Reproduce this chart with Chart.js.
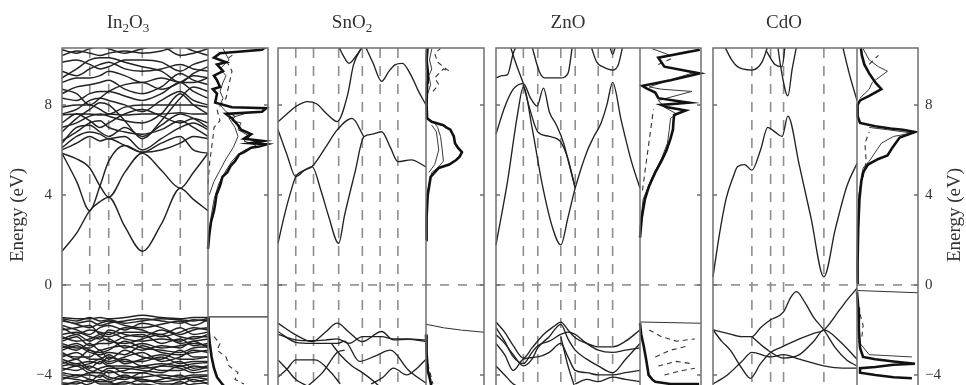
<!DOCTYPE html>
<html><head><meta charset="utf-8">
<script src="https://cdn.jsdelivr.net/npm/chart.js@4/dist/chart.umd.min.js"></script>
<style>
html,body{margin:0;padding:0;background:#fff;overflow:hidden;width:966px;height:385px;}
#wrap{position:relative;width:966px;height:385px;overflow:hidden;}
canvas{position:absolute;left:0;top:0;}
.ttl{position:absolute;top:12px;font-family:'Liberation Serif',serif;font-size:19px;line-height:20px;color:#333;transform:translateX(-50%);white-space:nowrap;}
.ttl sub{font-size:13px;vertical-align:-4px;line-height:0;}
</style></head><body>
<div id="wrap"><canvas id="c" width="966" height="390"></canvas></div>
<script>
// ---------- data ----------
const yRange = [-4.55, 10.53];
const yTicks = [-4, 0, 4, 8];
const panelNames = ['In2O3', 'SnO2', 'ZnO', 'CdO'];
const axisTitle = 'Energy (eV)';

// high-symmetry k-point positions (fraction of band-structure panel width)
const in2o3Kpts = [0.19, 0.32, 0.55, 0.81];
const sno2Kpts = [0.12, 0.24, 0.41, 0.57, 0.69, 0.81];
const znoKpts = [0.19, 0.29, 0.45, 0.55, 0.71, 0.81];
const cdoKpts = [0.27, 0.40, 0.49, 0.77];

// In2O3 bands on a common k grid
const in2o3K = [0, 0.1, 0.19, 0.26, 0.32, 0.43, 0.55, 0.68, 0.81, 0.9, 1];
const in2o3Conduction = [
  [1.5, 2.3, 3.3, 3.7, 3.9, 2.6, 1.5, 2.7, 4.3, 3.8, 3.3],
  [5.85, 5.6, 5.2, 4.4, 3.9, 5.0, 5.85, 5.1, 4.3, 5.0, 5.85],
  [5.85, 4.6, 3.3, 4.4, 5.5, 6.2, 5.9, 6.3, 6.6, 6.0, 5.85],
  [6.0, 6.3, 6.6, 6.4, 6.5, 6.2, 5.9, 6.0, 6.3, 6.6, 6.5],
  [6.1, 6.6, 6.8, 6.7, 6.5, 6.6, 6.0, 6.5, 7.0, 7.2, 6.9],
  [6.3, 7.0, 7.1, 6.8, 6.6, 7.0, 6.6, 7.1, 7.6, 7.4, 7.0],
  [6.4, 6.8, 7.2, 7.3, 7.0, 6.8, 6.7, 6.9, 7.3, 7.0, 6.6],
  [6.8, 7.4, 7.8, 8.1, 8.0, 7.3, 6.5, 7.3, 8.3, 8.8, 8.6],
  [7.0, 7.2, 7.5, 7.6, 7.5, 7.3, 7.2, 7.6, 8.5, 8.0, 7.6],
  [7.2, 7.6, 7.3, 7.0, 7.2, 7.6, 7.8, 7.5, 7.2, 7.4, 7.2],
  [7.55, 7.6, 7.6, 7.55, 7.6, 7.55, 7.6, 7.6, 7.65, 7.6, 7.6],
  [7.6, 7.8, 8.2, 8.3, 8.2, 8.0, 7.7, 8.2, 8.6, 8.2, 8.0],
  [7.9, 8.0, 8.0, 7.8, 7.6, 7.9, 8.0, 8.0, 8.0, 8.0, 7.9],
  [8.3, 8.2, 8.5, 8.6, 8.6, 8.4, 8.2, 8.5, 9.0, 8.6, 8.3],
  [8.5, 8.8, 8.9, 9.0, 9.1, 8.7, 8.5, 8.8, 9.4, 9.1, 8.9],
  [8.7, 8.5, 8.0, 8.3, 8.6, 8.9, 9.0, 8.7, 9.0, 9.3, 9.2],
  [9.0, 9.2, 9.2, 9.3, 9.5, 9.3, 9.0, 9.2, 9.0, 9.0, 9.2],
  [9.2, 9.6, 10.0, 10.1, 10.1, 9.9, 9.7, 9.5, 9.0, 9.4, 9.7],
  [9.5, 9.3, 9.6, 9.8, 9.9, 9.6, 9.5, 9.6, 9.8, 9.6, 9.5],
  [9.9, 10.0, 9.8, 9.6, 9.7, 10.0, 10.0, 9.9, 9.5, 9.8, 10.0],
  [10.2, 10.4, 10.3, 10.2, 10.3, 10.4, 10.3, 10.4, 10.6, 10.4, 10.2],
  [10.45, 10.3, 10.5, 10.6, 10.5, 10.3, 10.5, 10.6, 10.2, 10.3, 10.5]
];
const in2o3Valence = [
  [-1.45, -1.5, -1.5, -1.45, -1.5, -1.45, -1.35, -1.45, -1.5, -1.45, -1.45],
  [-1.5, -1.6, -1.45, -1.6, -1.55, -1.7, -1.6, -1.5, -1.55, -1.6, -1.5],
  [-1.55, -1.75, -1.9, -1.7, -1.6, -1.8, -1.9, -1.75, -1.6, -1.8, -1.55],
  [-1.6, -1.7, -1.6, -1.8, -1.7, -1.6, -1.5, -1.6, -1.7, -1.55, -1.6],
  [-1.8, -2.0, -2.2, -1.9, -1.8, -2.0, -1.7, -1.9, -2.2, -2.0, -1.9],
  [-1.9, -2.2, -2.0, -2.1, -2.2, -1.9, -2.0, -2.3, -2.1, -1.9, -2.0],
  [-2.0, -1.9, -1.8, -2.2, -2.3, -2.1, -2.1, -2.2, -1.9, -2.2, -2.1],
  [-2.2, -2.1, -2.3, -2.4, -2.0, -2.2, -2.3, -2.0, -2.3, -2.4, -2.2],
  [-2.3, -2.5, -2.4, -2.2, -2.1, -2.4, -2.5, -2.4, -2.5, -2.3, -2.3],
  [-2.4, -2.2, -2.5, -2.3, -2.5, -2.6, -2.4, -2.2, -2.6, -2.5, -2.4],
  [-2.5, -2.3, -2.7, -2.6, -2.6, -2.3, -2.2, -2.6, -2.4, -2.7, -2.6],
  [-2.6, -2.8, -2.8, -2.5, -2.4, -2.8, -2.6, -2.8, -2.7, -2.6, -2.7],
  [-2.7, -2.9, -2.6, -2.9, -2.8, -2.7, -2.9, -2.7, -2.8, -2.5, -2.8],
  [-2.8, -2.6, -2.9, -3.0, -2.9, -2.5, -2.8, -2.9, -3.0, -2.8, -2.75],
  [-2.9, -2.7, -3.0, -3.1, -3.0, -3.1, -2.7, -3.0, -3.1, -3.0, -2.9],
  [-3.0, -3.3, -2.9, -3.2, -3.4, -3.2, -3.0, -3.4, -3.2, -2.9, -3.0],
  [-3.1, -3.2, -3.2, -2.9, -3.3, -2.9, -3.2, -3.3, -2.9, -3.2, -3.2],
  [-3.2, -3.0, -3.3, -3.3, -3.1, -3.5, -3.3, -3.1, -3.3, -3.3, -3.2],
  [-3.3, -3.5, -3.4, -3.5, -3.2, -3.4, -3.4, -3.2, -3.5, -3.4, -3.4],
  [-3.4, -3.6, -3.5, -3.3, -3.5, -3.3, -3.6, -3.5, -3.6, -3.5, -3.45],
  [-3.5, -3.3, -3.7, -3.4, -3.6, -3.6, -3.7, -3.6, -3.4, -3.7, -3.6],
  [-3.6, -3.5, -3.8, -3.9, -3.7, -3.7, -3.8, -3.9, -3.6, -3.8, -3.65],
  [-3.7, -3.8, -3.6, -3.8, -3.9, -3.8, -3.6, -3.8, -3.8, -3.6, -3.7],
  [-3.8, -3.6, -3.9, -3.7, -3.6, -3.9, -3.9, -3.6, -3.7, -3.9, -3.8],
  [-3.9, -4.0, -4.0, -4.1, -3.8, -4.1, -4.1, -4.0, -4.1, -4.0, -4.0],
  [-4.0, -4.1, -3.9, -3.9, -4.1, -4.2, -3.9, -4.1, -4.2, -4.1, -4.05],
  [-4.1, -4.2, -4.3, -4.0, -4.2, -4.0, -4.3, -4.2, -4.0, -4.3, -4.2],
  [-4.2, -4.0, -4.2, -4.3, -4.3, -4.1, -4.2, -4.3, -4.2, -4.1, -4.2],
  [-4.35, -4.4, -4.2, -4.4, -4.4, -4.4, -4.2, -4.4, -4.4, -4.2, -4.4],
  [-4.4, -4.5, -4.4, -4.2, -4.3, -4.5, -4.4, -4.5, -4.5, -4.4, -4.35],
  [-4.5, -4.3, -4.5, -4.6, -4.5, -4.3, -4.5, -4.6, -4.3, -4.5, -4.5]
];

// SnO2 bands: [k, E] pairs
const sno2Bands = [
  [[0,1.85],[0.04,3.0],[0.08,4.0],[0.12,4.81],[0.18,5.1],[0.23,5.26],[0.29,4.2],[0.34,3.1],[0.41,1.85],[0.45,3.1],[0.52,5.0],[0.58,6.59],[0.64,6.7],[0.7,6.81],[0.76,6.1],[0.81,5.48],[0.9,5.56],[1,5.25]],
  [[0,6.9],[0.06,5.8],[0.12,4.81],[0.18,5.1],[0.23,5.26],[0.32,6.1],[0.4,6.89],[0.5,7.4],[0.58,6.59]],
  [[0,7.25],[0.06,7.6],[0.12,7.93],[0.2,8.15],[0.26,8.05],[0.33,7.6],[0.4,7.26],[0.47,8.44],[0.51,9.78],[0.57,10.6]],
  [[0.41,10.6],[0.44,10.2],[0.48,9.85],[0.53,10.2],[0.57,10.6]],
  [[0.59,10.6],[0.64,9.9],[0.7,9.05],[0.75,9.5],[0.79,9.78],[0.84,9.85],[0.9,9.3],[0.95,8.6],[1,8.0]],
  [[0,-1.7],[0.12,-2.22],[0.23,-2.52],[0.32,-2.1],[0.4,-1.7],[0.48,-2.1],[0.57,-2.52],[0.7,-2.07],[0.78,-2.44],[0.88,-2.42],[1,-2.52]],
  [[0,-2.2],[0.12,-2.44],[0.23,-2.48],[0.32,-2.45],[0.4,-2.4],[0.48,-2.6],[0.57,-2.3],[0.7,-2.3],[0.78,-2.4],[0.88,-2.4],[1,-2.45]],
  [[0,-2.07],[0.12,-2.55],[0.23,-2.6],[0.4,-2.6],[0.45,-2.5],[0.55,-3.4],[0.66,-3.15],[0.76,-2.9],[0.88,-3.78],[1,-4.37]],
  [[0,-4.1],[0.06,-3.75],[0.12,-3.33],[0.25,-3.33],[0.36,-3.9],[0.42,-4.4]],
  [[0,-3.33],[0.06,-3.75],[0.12,-4.2],[0.2,-4.5]],
  [[0.36,-2.6],[0.42,-3.1],[0.5,-3.6],[0.57,-3.9],[0.65,-4.3],[0.7,-4.6]],
  [[0.63,-4.4],[0.71,-4.1],[0.78,-3.7],[0.87,-4.0],[0.94,-3.7],[1,-3.3]],
  [[0.2,-4.5],[0.3,-3.9],[0.4,-3.0],[0.45,-2.9]]
];

// ZnO bands
const znoBands = [
  [[0,1.78],[0.08,4.6],[0.15,7.6],[0.19,8.8],[0.25,7.0],[0.32,4.5],[0.39,2.6],[0.45,1.78],[0.5,3.0],[0.55,4.3],[0.63,5.9],[0.68,6.6],[0.73,7.2],[0.77,8.0],[0.81,9.0],[0.87,7.3],[0.94,5.5],[1,4.3]],
  [[0,6.7],[0.06,7.9],[0.12,8.7],[0.19,8.95],[0.24,8.3],[0.285,7.95],[0.33,8.75],[0.37,7.7],[0.42,7.1],[0.47,6.3],[0.51,5.3],[0.55,4.3]],
  [[0.19,8.9],[0.24,7.7],[0.29,6.8],[0.37,6.6],[0.45,6.35],[0.5,5.6],[0.55,4.3]],
  [[0,9.2],[0.04,9.3],[0.08,9.35],[0.12,10.3],[0.14,10.6]],
  [[0.1,10.6],[0.13,10.0],[0.19,8.95]],
  [[0.25,10.6],[0.3,9.5],[0.34,9.2],[0.45,9.2],[0.5,9.4],[0.53,10.6]],
  [[0.66,10.6],[0.7,9.9],[0.74,9.7],[0.81,9.55],[0.85,9.8],[0.88,10.6]],
  [[0.79,10.6],[0.81,10.25],[0.83,10.6]],
  [[0,-1.65],[0.06,-2.1],[0.12,-2.7],[0.19,-3.25],[0.25,-2.8],[0.33,-2.2],[0.4,-1.85],[0.45,-1.65],[0.5,-2.0],[0.55,-2.35],[0.63,-2.6],[0.71,-2.75],[0.81,-2.75],[0.9,-2.5],[1,-2.0]],
  [[0,-2.2],[0.06,-2.6],[0.12,-3.1],[0.19,-3.6],[0.25,-3.3],[0.29,-2.8],[0.37,-2.3],[0.45,-1.75],[0.5,-2.4],[0.55,-2.9],[0.63,-3.3],[0.71,-3.6],[0.81,-3.9],[0.9,-3.3],[1,-2.6]],
  [[0,-1.9],[0.06,-2.5],[0.12,-3.2],[0.19,-3.5],[0.25,-3.0],[0.29,-2.7],[0.37,-2.5],[0.45,-2.2],[0.5,-2.1],[0.55,-2.2],[0.63,-2.6],[0.71,-2.9],[0.81,-3.0],[0.9,-2.9],[1,-2.8]],
  [[0,-2.6],[0.06,-3.1],[0.12,-3.8],[0.19,-3.3],[0.29,-3.2],[0.37,-3.0],[0.45,-2.6],[0.5,-3.2],[0.55,-3.8],[0.63,-3.9],[0.71,-4.0],[0.81,-4.0],[0.9,-3.9],[1,-3.8]],
  [[0,-3.6],[0.06,-4.0],[0.12,-4.4],[0.19,-4.6]],
  [[0.45,-2.3],[0.5,-3.6],[0.55,-4.6]],
  [[0.55,-4.4],[0.63,-4.2],[0.71,-4.3],[0.81,-4.1],[0.9,-4.2],[1,-4.3]]
];

// CdO bands
const cdoBands = [
  [[0,0.36],[0.046,2.3],[0.09,3.8],[0.14,4.8],[0.17,5.25],[0.22,5.35],[0.27,5.1],[0.33,6.0],[0.38,7.0],[0.43,6.8],[0.48,6.6],[0.52,7.5],[0.6,5.3],[0.68,3.0],[0.77,0.36],[0.85,2.5],[0.93,4.4],[1,5.4]],
  [[0.08,10.6],[0.13,10.0],[0.17,9.7],[0.27,9.55],[0.34,9.9],[0.38,10.6]],
  [[0.45,10.6],[0.47,9.7],[0.52,8.4],[0.55,9.6],[0.58,10.6]],
  [[0.37,10.4],[0.43,9.8],[0.48,9.7],[0.5,10.6]],
  [[0.9,10.6],[0.95,9.3],[1,8.2]],
  [[0,-2.0],[0.1,-2.15],[0.2,-2.3],[0.27,-2.3],[0.33,-1.9],[0.4,-1.55],[0.49,-1.2],[0.54,-0.55],[0.58,-0.3],[0.64,-0.8],[0.7,-1.45],[0.77,-2.0],[0.85,-2.8],[0.93,-3.35],[1,-3.6]],
  [[0,-2.0],[0.06,-2.5],[0.12,-2.9],[0.2,-3.7],[0.26,-4.15],[0.33,-3.5],[0.4,-3.0],[0.48,-2.75],[0.6,-2.4],[0.7,-2.15],[0.77,-2.0],[0.88,-1.1],[0.94,-0.6],[1,-0.15]],
  [[0.27,-2.3],[0.36,-2.8],[0.49,-3.25],[0.6,-3.1],[0.7,-2.5],[0.77,-2.0],[0.88,-2.5],[1,-3.3]],
  [[0,-4.4],[0.1,-4.0],[0.2,-3.4],[0.27,-3.0],[0.4,-3.2],[0.49,-3.1],[0.6,-3.3],[0.77,-3.6],[0.9,-3.7],[1,-3.7]]
];

// Density of states: [dos (fraction of DOS panel width), E] pairs
const in2o3DosTotal = [
  [[0,1.6],[0.02,2.2],[0.05,2.8],[0.1,3.3],[0.12,3.6],[0.14,4.0],[0.2,4.4],[0.24,4.8],[0.32,5.0],[0.38,5.3],[0.45,5.5],[0.52,5.8],[0.6,5.9],[0.72,6.1],[0.85,6.15],[0.98,6.25],[0.7,6.3],[0.92,6.4],[0.6,6.5],[0.72,6.7],[0.55,6.9],[0.5,7.1],[0.4,7.4],[0.3,7.6],[0.9,7.7],[0.97,7.85],[0.4,7.9],[0.12,8.1],[0.15,8.5],[0.08,8.7],[0.2,8.8],[0.15,9.1],[0.1,9.3],[0.25,9.5],[0.15,9.8],[0.3,9.9],[0.1,10.1],[0.2,10.3],[0.9,10.45],[0.97,10.6]],
  [[0,-1.45],[0.01,-2.0],[0.03,-2.6],[0.06,-3.2],[0.1,-3.7],[0.15,-4.1],[0.22,-4.35],[0.3,-4.6]]
];
const in2o3DosPartial = [
  [[0,1.7],[0.05,3.0],[0.1,3.8],[0.18,4.5],[0.28,5.0],[0.4,5.5],[0.5,5.8],[0.62,6.0],[0.8,6.2],[0.6,6.4],[0.7,6.6],[0.5,6.9],[0.55,7.2],[0.4,7.3],[0.45,7.5],[0.3,7.7],[0.2,8.0],[0.25,8.3],[0.2,8.6],[0.25,9.0],[0.3,9.3],[0.2,9.6],[0.35,10.0],[0.25,10.5]],
  [[0.02,4.0],[0.1,4.6],[0.2,5.1],[0.3,5.6],[0.42,6.1],[0.5,6.6],[0.45,7.0],[0.35,7.4],[0.6,7.6]]
];
const in2o3DosDashed = [
  [[0,4.5],[0.03,5.5],[0.08,6.5],[0.1,7.0],[0.2,7.3],[0.15,7.8],[0.3,8.3],[0.35,8.9],[0.4,9.5],[0.3,10.0],[0.45,10.3]],
  [[0.1,-2.3],[0.2,-2.6],[0.15,-2.9],[0.3,-3.2],[0.35,-3.6],[0.5,-3.9],[0.45,-4.2],[0.6,-4.4]]
];
const in2o3DosEdge = [[[0,-1.42],[1,-1.42]]];

const sno2DosTotal = [
  [[0,2.0],[0.01,3.0],[0.03,4.0],[0.08,4.8],[0.22,5.2],[0.4,5.35],[0.52,5.55],[0.58,5.7],[0.62,5.9],[0.55,6.1],[0.5,6.3],[0.48,6.6],[0.42,6.9],[0.35,7.0],[0.3,7.1],[0.1,7.25],[0.02,7.4],[0.01,8.0],[0.02,9.0],[0.03,9.5],[0.01,10.0],[0.03,10.6]],
  [[0,-2.2],[0.01,-3.0],[0.03,-3.8],[0.07,-4.2],[0.1,-4.6]]
];
const sno2DosPartial = [
  [[0,2.5],[0.03,4.2],[0.1,5.0],[0.2,5.2],[0.3,5.5],[0.28,6.0],[0.25,6.6],[0.2,7.0],[0.15,7.2],[0.05,7.35]],
  [[0.05,5.0],[0.15,5.35],[0.22,6.0],[0.18,6.8],[0.1,7.1]],
  [[0.03,8.5],[0.08,8.9],[0.05,9.3],[0.1,9.6],[0.06,10.0],[0.1,10.5]]
];
const sno2DosDashed = [
  [[0.12,8.6],[0.22,8.9],[0.15,9.2],[0.3,9.6],[0.4,9.5],[0.2,9.9],[0.15,10.3],[0.25,10.5]],
  [[0.03,-3.5],[0.08,-4.0],[0.12,-4.4]]
];
const sno2DosEdge = [[[0,-1.75],[0.3,-1.9],[0.6,-2.0],[1,-2.1]]];

const znoDosTotal = [
  [[0,2.1],[0.03,3.0],[0.08,3.8],[0.15,4.4],[0.25,5.0],[0.35,5.5],[0.43,5.95],[0.5,6.5],[0.54,6.9],[0.55,7.3],[0.56,7.55],[0.75,7.75],[0.45,7.9],[0.35,8.0],[0.8,8.1],[0.3,8.3],[0.25,8.55],[0.1,8.75],[0.04,8.85],[0.5,9.1],[0.98,9.4],[0.4,9.7],[0.3,10.1],[0.98,10.45]],
  [[0,-1.7],[0.02,-2.2],[0.06,-2.7],[0.1,-3.3],[0.13,-3.8],[0.14,-4.0],[0.2,-4.2],[0.25,-4.3],[0.5,-4.4],[0.97,-4.4]]
];
const znoDosPartial = [
  [[0,2.5],[0.05,3.8],[0.2,4.8],[0.35,5.6],[0.45,6.3],[0.48,6.9],[0.5,7.4],[0.6,7.6],[0.4,7.9],[0.3,8.2],[0.85,8.6],[0.35,8.7],[0.15,8.8],[0.6,9.2],[0.9,9.45]],
  [[0.2,10.5],[0.5,10.2],[0.8,10.4]]
];
const znoDosDashed = [
  [[0.04,4.2],[0.08,5.0],[0.13,6.0],[0.18,7.0],[0.22,7.8]],
  [[0.3,9.8],[0.55,10.1]],
  [[0.15,-2.0],[0.35,-2.3],[0.6,-2.5],[0.9,-2.4]],
  [[0.25,-3.2],[0.5,-2.9],[0.8,-2.7]],
  [[0.3,-3.6],[0.6,-3.4],[0.85,-3.5]],
  [[0.4,-4.0],[0.7,-3.8],[0.9,-3.7]]
];
const znoDosEdge = [[[0,-1.65],[1,-1.7]]];

const cdoDosTotal = [
  [[0,0.1],[0.01,1.0],[0.02,2.5],[0.04,3.8],[0.07,4.6],[0.1,5.0],[0.18,5.35],[0.35,5.6],[0.5,5.75],[0.58,6.1],[0.7,6.55],[0.95,6.8],[0.75,6.9],[0.55,6.95],[0.3,7.05],[0.05,7.2],[0.01,7.5],[0.01,8.0],[0.05,8.2],[0.2,8.4],[0.4,8.7],[0.3,9.0],[0.2,9.4],[0.12,9.8],[0.08,10.2],[0.06,10.6]],
  [[0,-0.3],[0.02,-1.0],[0.03,-2.0],[0.05,-2.8],[0.1,-3.2],[0.3,-3.3],[0.6,-3.4],[0.95,-3.5],[0.6,-3.55],[0.3,-3.65],[0.05,-3.7],[0.05,-3.9],[0.3,-4.0],[0.6,-4.1],[0.9,-4.15]]
];
const cdoDosPartial = [
  [[0,0.5],[0.03,4.0],[0.1,5.2],[0.2,5.5],[0.3,5.9],[0.4,6.3],[0.6,6.6],[0.9,6.75],[0.5,6.9],[0.2,7.0]],
  [[0.05,8.3],[0.2,8.7],[0.25,9.0],[0.5,9.5],[0.35,9.7],[0.2,10.0],[0.1,10.5]],
  [[0.02,-2.5],[0.2,-3.1],[0.9,-3.2]]
];
const cdoDosDashed = [
  [[0.1,4.8],[0.15,5.5],[0.13,6.3],[0.2,6.8]],
  [[0.2,9.8],[0.35,10.2]],
  [[0.05,-1.3],[0.1,-1.8],[0.08,-2.3]]
];
const cdoDosEdge = [[[0,-0.25],[1,-0.35]]];

// ---------- layout (pixels) ----------
const layout = {
  band: [[62,208],[278,426],[496,640],[713,857]],
  dos: [[208,268],[426,484],[640,701],[857,918]],
  titleX: [128,352,568,784],
  plotLeft: 62, plotRight: 918, plotTop: 48, plotBottom: 387.3, canvasW: 966, canvasH: 390,
  axisTitleX: [18, 955], axisTitleY: 215
};

const in2o3Bands = in2o3Conduction.concat(in2o3Valence).map(row => row.map((e, i) => [in2o3K[i], e]));
const panels = [
  {kpts: in2o3Kpts, bands: in2o3Bands, tot: in2o3DosTotal, part: in2o3DosPartial, dash: in2o3DosDashed, edge: in2o3DosEdge},
  {kpts: sno2Kpts, bands: sno2Bands, tot: sno2DosTotal, part: sno2DosPartial, dash: sno2DosDashed, edge: sno2DosEdge},
  {kpts: znoKpts, bands: znoBands, tot: znoDosTotal, part: znoDosPartial, dash: znoDosDashed, edge: znoDosEdge},
  {kpts: cdoKpts, bands: cdoBands, tot: cdoDosTotal, part: cdoDosPartial, dash: cdoDosDashed, edge: cdoDosEdge}
];

const datasets = [];
const base = {showLine: true, pointRadius: 0, pointHoverRadius: 0, fill: false, tension: 0};
panels.forEach((p, i) => {
  const [b0, b1] = layout.band[i], [d0, d1] = layout.dos[i];
  const bx = k => b0 + k * (b1 - b0);
  const dx = d => d0 + d * (d1 - d0);
  p.kpts.forEach(k => datasets.push(Object.assign({}, base, {
    data: [{x: bx(k), y: yRange[1]}, {x: bx(k), y: yRange[0]}],
    borderColor: '#8e8e8e', borderWidth: 1.6, borderDash: [10, 8], order: 3})));
  datasets.push(Object.assign({}, base, {
    data: [{x: b0, y: 0}, {x: d1, y: 0}],
    borderColor: '#8e8e8e', borderWidth: 1.6, borderDash: [9, 9], order: 3}));
  p.bands.forEach(b => datasets.push(Object.assign({}, base, {
    data: b.map(([k, e]) => ({x: bx(k), y: e})),
    borderColor: '#222', borderWidth: i === 0 ? 1.45 : 1.35, cubicInterpolationMode: 'monotone', order: 1})));
  p.edge.forEach(c => datasets.push(Object.assign({}, base, {
    data: c.map(([d, e]) => ({x: dx(d), y: e})), borderColor: '#333', borderWidth: 1.1, order: 2})));
  p.dash.forEach(c => datasets.push(Object.assign({}, base, {
    data: c.map(([d, e]) => ({x: dx(d), y: e})), borderColor: '#333', borderWidth: 1.1, borderDash: [5, 4], order: 2})));
  p.part.forEach(c => datasets.push(Object.assign({}, base, {
    data: c.map(([d, e]) => ({x: dx(d), y: e})), borderColor: '#3a3a3a', borderWidth: 1.0, order: 1})));
  p.tot.forEach(c => datasets.push(Object.assign({}, base, {
    data: c.map(([d, e]) => ({x: dx(d), y: e})), borderColor: '#111', borderWidth: 2.6, order: 0})));
});

const fmt = v => (v < 0 ? '\u2212' + Math.abs(v) : String(v));
const tickFont = {family: 'Liberation Serif', size: 15};

const framePlugin = {
  id: 'frames',
  afterDraw(chart) {
    const ctx = chart.ctx, xs = chart.scales.x, ys = chart.scales.y;
    const top = chart.chartArea.top, bottom = chart.chartArea.bottom + 2;
    ctx.save();
    ctx.strokeStyle = '#6f6f6f'; ctx.lineWidth = 1.5; ctx.setLineDash([]);
    layout.band.forEach((b, i) => {
      const l = xs.getPixelForValue(b[0]), m = xs.getPixelForValue(b[1]), r = xs.getPixelForValue(layout.dos[i][1]);
      ctx.strokeRect(l, top, r - l, bottom - top);
      ctx.beginPath(); ctx.moveTo(m, top); ctx.lineTo(m, bottom); ctx.stroke();
      yTicks.forEach(v => {
        const py = ys.getPixelForValue(v);
        ctx.beginPath(); ctx.moveTo(l, py); ctx.lineTo(l + 4, py); ctx.moveTo(r, py); ctx.lineTo(r - 4, py); ctx.stroke();
      });
    });
    ctx.fillStyle = '#333'; ctx.font = '19px "Liberation Serif"';
    ctx.textAlign = 'center'; ctx.textBaseline = 'middle';
    layout.axisTitleX.forEach(x => {
      ctx.save(); ctx.translate(x, layout.axisTitleY); ctx.rotate(-Math.PI / 2);
      ctx.fillText(axisTitle, 0, 0); ctx.restore();
    });
    ctx.restore();
  }
};

const yScale = (pos, width, pad) => ({
  type: 'linear', position: pos, min: yRange[0], max: yRange[1],
  grid: {display: false, drawTicks: false}, border: {display: false},
  ticks: {padding: pad, color: '#333', font: tickFont, callback: v => fmt(v)},
  afterBuildTicks: s => { s.ticks = yTicks.map(v => ({value: v})); },
  afterFit: s => { s.width = width; s.paddingTop = 0; s.paddingBottom = 0; }
});

new Chart(document.getElementById('c'), {
  type: 'line',
  data: {datasets},
  options: {
    responsive: false, animation: false, devicePixelRatio: 1,
    layout: {padding: {top: layout.plotTop, bottom: layout.canvasH - layout.plotBottom, left: 0, right: 0}},
    plugins: {legend: {display: false}, tooltip: {enabled: false}},
    events: [],
    scales: {
      x: {type: 'linear', min: layout.plotLeft, max: layout.plotRight, display: false},
      y: yScale('left', layout.plotLeft, 10),
      y2: yScale('right', layout.canvasW - layout.plotRight, 7)
    }
  },
  plugins: [framePlugin]
});

const wrap = document.getElementById('wrap');
panelNames.forEach((n, i) => {
  const d = document.createElement('div');
  d.className = 'ttl';
  d.style.left = layout.titleX[i] + 'px';
  d.innerHTML = n.replace(/(\d)/g, '<sub>$1</sub>');
  wrap.appendChild(d);
});
</script>
</body></html>
